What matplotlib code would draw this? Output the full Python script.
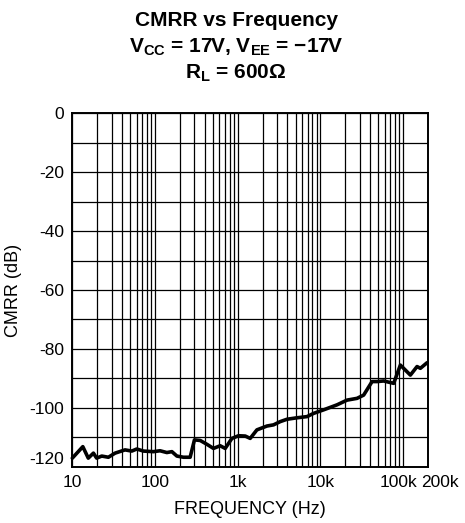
import matplotlib
matplotlib.use("Agg")
import matplotlib.pyplot as plt
from matplotlib.ticker import FixedLocator, NullFormatter, LogLocator
from matplotlib.transforms import ScaledTranslation

plt.rcParams['font.family'] = ['Liberation Sans', 'DejaVu Sans']
plt.rcParams['mathtext.fontset'] = 'custom'
plt.rcParams['mathtext.rm'] = 'Liberation Sans:bold'
plt.rcParams['mathtext.bf'] = 'Liberation Sans:bold'

# Measured CMRR curve
freq_hz = [10, 13.4, 15.6, 18.0, 19.7, 22.7, 27.3, 32.9, 43.4, 52.4, 60.2, 72.4,
           95.7, 115, 139, 160, 184, 221, 266, 300, 352, 424, 509, 614, 706,
           851, 1023, 1233, 1416, 1707, 2257, 2712, 3270, 3943, 5212, 6887,
           8279, 10940, 15890, 20990, 27730, 33340, 42170, 48440, 58230,
           76950, 92680, 122500, 147500, 161800, 195000]
cmrr_db = [-117.1, -113.2, -117.1, -115.4, -117.1, -116.4, -116.8, -115.4,
           -114.3, -114.7, -114.0, -114.7, -114.9, -114.6, -115.2, -114.9,
           -116.4, -116.8, -116.8, -110.9, -111.1, -112.4, -113.8, -112.9,
           -113.8, -110.4, -109.5, -109.6, -110.4, -107.5, -106.2, -105.8,
           -104.7, -103.9, -103.4, -103.0, -101.9, -100.7, -99.0, -97.4,
           -96.8, -95.7, -91.1, -91.1, -90.9, -91.7, -85.5, -88.9, -86.0,
           -86.6, -84.7]

x_ticks = [10, 100, 1000, 10000, 100000, 200000]
x_tick_labels = ['10', '100', '1k', '10k', '100k', '200k']
y_ticks = [0, -20, -40, -60, -80, -100, -120]
y_tick_labels = ['0', '-20', '-40', '-60', '-80', '-100', '-120']

fig = plt.figure(figsize=(4.65, 5.23), dpi=100)
ax = fig.add_axes([0.1555, 0.1077, 0.7649, 0.6757])

ax.plot(freq_hz, cmrr_db, color='black', linewidth=2.6, solid_joinstyle='round',
        solid_capstyle='round', zorder=3, clip_on=False)

ax.set_xscale('log')
ax.set_xlim(10, 200000)
ax.set_ylim(-120, 0)

ax.xaxis.set_major_locator(FixedLocator(x_ticks))
ax.set_xticklabels(x_tick_labels)
ax.xaxis.set_minor_locator(LogLocator(base=10, subs=range(2, 10), numticks=20))
ax.xaxis.set_minor_formatter(NullFormatter())
ax.set_yticks(y_ticks)
ax.set_yticklabels(y_tick_labels)
ax.set_yticks(range(-110, 0, 20), minor=True)

ax.grid(True, which='both', axis='both', color='black', linewidth=0.9)
ax.tick_params(which='both', length=0, labelsize=12.5, colors='black')
ax.tick_params(axis='y', pad=6)
ax.tick_params(axis='x', pad=6)
for sp in ax.spines.values():
    sp.set_linewidth(1.4)
    sp.set_color('black')

# keep the lowest y label clear of the "10" label
ylabs = ax.get_yticklabels()
ylabs[-1].set_verticalalignment('bottom')

# spread the two crowded labels at the right end of the x axis
xlabs = ax.get_xticklabels()
xlabs[-2].set_transform(xlabs[-2].get_transform() +
                        ScaledTranslation(-5 / 100, 0, fig.dpi_scale_trans))
xlabs[-1].set_horizontalalignment('left')
xlabs[-1].set_transform(xlabs[-1].get_transform() +
                        ScaledTranslation(-7 / 100, 0, fig.dpi_scale_trans))

ax.set_xlabel('FREQUENCY (Hz)', fontsize=13, labelpad=8)
ax.set_ylabel('CMRR (dB)', fontsize=13, labelpad=5)

tx = 236 / 465
fig.text(tx, 1 - 20 / 523, 'CMRR vs Frequency', ha='center', va='center',
         fontsize=15, fontweight='bold')
fig.text(tx, 1 - 47 / 523,
         r'V$_{\mathrm{CC}}$ = 17V, V$_{\mathrm{EE}}$ = −17V',
         ha='center', va='center', fontsize=15, fontweight='bold')
fig.text(tx, 1 - 73 / 523, r'R$_{\mathrm{L}}$ = 600Ω', ha='center', va='center',
         fontsize=15, fontweight='bold')

fig.savefig('out.png', dpi=100, facecolor='white')
